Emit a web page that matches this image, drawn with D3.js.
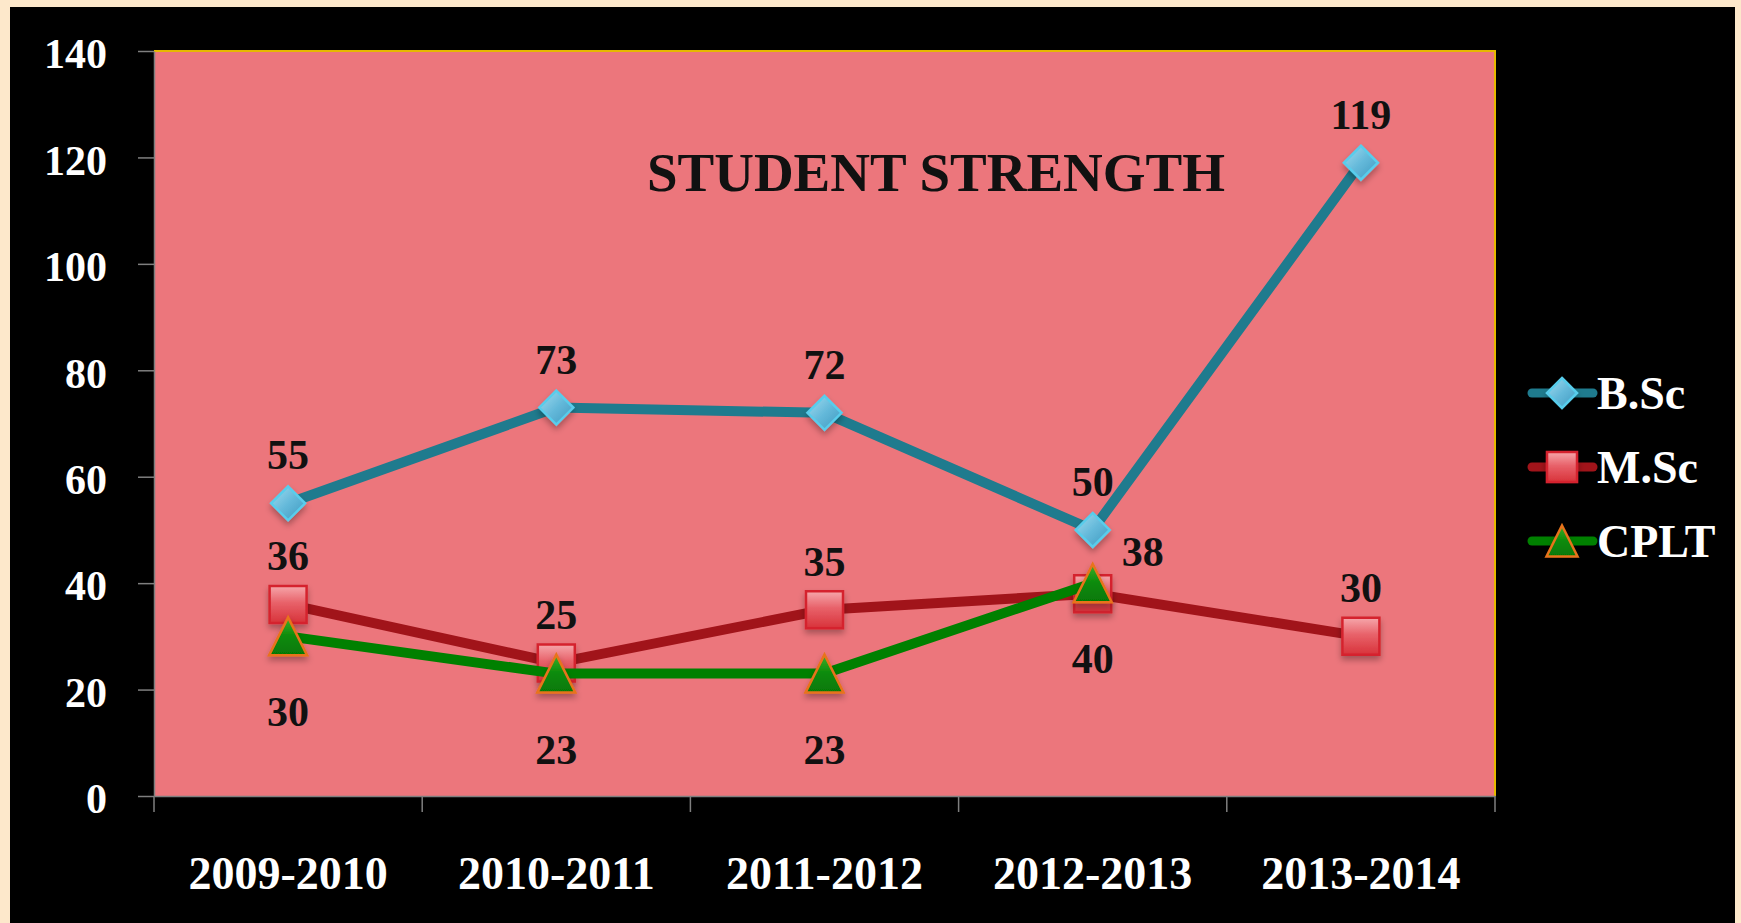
<!DOCTYPE html>
<html lang="en">
<head>
<meta charset="utf-8">
<title>Student Strength</title>
<script src="https://d3js.org/d3.v7.min.js"></script>
<style>
  body { margin: 0; background: #fde8cb; }
  svg { display: block; }
  text { font-family: "Liberation Serif", "DejaVu Serif", serif; font-weight: bold; }
</style>
</head>
<body>
<div id="chart"></div>
<script>
// chart data
var categories = ["2009-2010", "2010-2011", "2011-2012", "2012-2013", "2013-2014"];
var seriesNames = ["B.Sc", "M.Sc", "CPLT"];
var bscValues = [55, 73, 72, 50, 119];
var mscValues = [36, 25, 35, 38, 30];
var cpltValues = [30, 23, 23, 40, null];
var yTicks = [0, 20, 40, 60, 80, 100, 120, 140];
var chartTitle = "STUDENT STRENGTH";

var w = 1741, h = 923;
var plot = { left: 154, right: 1495, top: 51, bottom: 796 };

var series = [
  { name: seriesNames[0], values: bscValues, line: "#1f7b8e", shape: "diamond", label: "above" },
  { name: seriesNames[1], values: mscValues, line: "#a1141a", shape: "square", label: "above" },
  { name: seriesNames[2], values: cpltValues, line: "#008000", shape: "triangle", label: "below" }
];

var svg = d3.select("#chart").append("svg")
  .attr("width", w)
  .attr("height", h);

var defs = svg.append("defs");

var shadow = defs.append("filter").attr("id", "shadow")
  .attr("x", "-50%").attr("y", "-50%").attr("width", "200%").attr("height", "200%");
shadow.append("feDropShadow")
  .attr("dx", 0).attr("dy", 4).attr("stdDeviation", 3)
  .attr("flood-color", "#000").attr("flood-opacity", 0.3);

function gradient(id, stops, x2, y2) {
  var g = defs.append("linearGradient").attr("id", id)
    .attr("x1", 0).attr("y1", 0).attr("x2", x2).attr("y2", y2);
  stops.forEach(function(s) {
    g.append("stop").attr("offset", s[0]).attr("stop-color", s[1]);
  });
}
gradient("gDiamond", [[0, "#a4dcef"], [0.5, "#64b9da"], [1, "#3e98bf"]], 1, 1);
gradient("gSquare", [[0, "#f6a7ab"], [0.45, "#e8626a"], [1, "#d8323a"]], 0, 1);
gradient("gTriangle", [[0, "#3fae2a"], [0.5, "#0a8a0a"], [1, "#067806"]], 0, 1);

var markerStyle = {
  diamond: { fill: "url(#gDiamond)", stroke: "#58cdec", width: 2.5 },
  square: { fill: "url(#gSquare)", stroke: "#d5242d", width: 2.5 },
  triangle: { fill: "url(#gTriangle)", stroke: "#e8731a", width: 2.5 }
};

// background panel
svg.append("rect")
  .attr("x", 10).attr("y", 7)
  .attr("width", 1725).attr("height", h - 7)
  .attr("fill", "#000");

svg.append("rect")
  .attr("x", plot.left).attr("y", plot.top)
  .attr("width", plot.right - plot.left).attr("height", plot.bottom - plot.top)
  .attr("fill", "#ec767c");

// gold border on top and right
svg.append("path")
  .attr("d", "M" + plot.left + "," + plot.top + "H" + plot.right + "V" + plot.bottom)
  .attr("fill", "none")
  .attr("stroke", "#e6b800")
  .attr("stroke-width", 2);

var x = d3.scaleBand().domain(categories).range([plot.left, plot.right]);
var y = d3.scaleLinear().domain([0, 140]).range([plot.bottom, plot.top]);

// y axis
var yAxis = svg.append("g")
  .attr("transform", "translate(" + plot.left + ",0)")
  .call(d3.axisLeft(y).tickValues(yTicks).tickSize(16).tickSizeOuter(0).tickPadding(31));
yAxis.select(".domain").attr("stroke", "#7f7f7f").attr("stroke-width", 1.5);
yAxis.selectAll(".tick line").attr("stroke", "#7f7f7f").attr("stroke-width", 1.5);
yAxis.selectAll(".tick text")
  .attr("fill", "#fff")
  .attr("font-size", 42)
  .attr("dy", "0.4em")
  .style("font-family", "'Liberation Serif', serif");

// x axis
var xAxis = svg.append("g")
  .attr("transform", "translate(0," + plot.bottom + ")")
  .call(d3.axisBottom(x).tickSize(0).tickSizeOuter(0));
xAxis.select(".domain").attr("stroke", "#7f7f7f").attr("stroke-width", 1.5);
xAxis.selectAll(".tick text")
  .attr("fill", "#fff")
  .attr("font-size", 46)
  .attr("y", 93)
  .attr("dy", 0)
  .style("font-family", "'Liberation Serif', serif");

// boundary ticks between categories
var bounds = categories.map(function(c) { return x(c); }).concat([x(categories[categories.length - 1]) + x.bandwidth()]);
xAxis.selectAll(".bound")
  .data(bounds)
  .enter()
  .append("line")
  .attr("x1", function(d) { return d; })
  .attr("x2", function(d) { return d; })
  .attr("y1", 0)
  .attr("y2", 16)
  .attr("stroke", "#7f7f7f")
  .attr("stroke-width", 1.5);

// title
svg.append("text")
  .attr("x", 936)
  .attr("y", 191)
  .attr("text-anchor", "middle")
  .attr("font-size", 55)
  .attr("fill", "#111")
  .text(chartTitle);

function cx(i) { return x(categories[i]) + x.bandwidth() / 2; }

function markerPath(shape, s) {
  if (shape === "diamond") return "M0," + (-s) + "L" + s + ",0L0," + s + "L" + (-s) + ",0Z";
  if (shape === "square") return "M" + (-s) + "," + (-s) + "H" + s + "V" + s + "H" + (-s) + "Z";
  return "M0," + (-s) + "L" + s + "," + s + "L" + (-s) + "," + s + "Z";
}
var markerSize = { diamond: 17, square: 18.5, triangle: 19 };
var legendMarkerSize = { diamond: 15, square: 15, triangle: 15.5 };

function drawMarker(g, shape, px, py, s) {
  var st = markerStyle[shape];
  g.append("path")
    .attr("d", markerPath(shape, s))
    .attr("transform", "translate(" + px + "," + py + ")")
    .attr("fill", st.fill)
    .attr("stroke", st.stroke)
    .attr("stroke-width", st.width)
    .attr("stroke-linejoin", "miter")
    .attr("filter", "url(#shadow)");
}

var line = d3.line()
  .defined(function(d) { return d != null; })
  .x(function(d, i) { return cx(i); })
  .y(function(d) { return y(d); });

// lines and markers
series.forEach(function(s) {
  var g = svg.append("g");
  g.append("path")
    .datum(s.values)
    .attr("d", line)
    .attr("fill", "none")
    .attr("stroke", s.line)
    .attr("stroke-width", 10)
    .attr("stroke-linejoin", "round");
  s.values.forEach(function(v, i) {
    if (v == null) return;
    drawMarker(g, s.shape, cx(i), y(v), markerSize[s.shape]);
  });
});

// data labels
series.forEach(function(s) {
  s.values.forEach(function(v, i) {
    if (v == null) return;
    var lx = cx(i), ly;
    if (s.label === "above") {
      // if another series sits just above this point, put the label to the right
      var crowded = series.some(function(o) {
        var ov = o.values[i];
        return o !== s && ov != null && ov > v && ov - v < 8;
      });
      if (crowded) { lx += 50; ly = y(v) - 42; }
      else ly = y(v) - 48;
    } else {
      ly = y(v) + 76;
    }
    svg.append("text")
      .attr("x", lx)
      .attr("y", ly + 14)
      .attr("text-anchor", "middle")
      .attr("font-size", 42)
      .attr("fill", "#111")
      .text(v);
  });
});

// legend
var legend = svg.append("g").attr("transform", "translate(1532,393)");
series.forEach(function(s, i) {
  var g = legend.append("g").attr("transform", "translate(0," + (i * 74) + ")");
  g.append("line")
    .attr("x1", 0).attr("x2", 61)
    .attr("y1", 0).attr("y2", 0)
    .attr("stroke", s.line)
    .attr("stroke-width", 9)
    .attr("stroke-linecap", "round");
  drawMarker(g, s.shape, 30, 0, legendMarkerSize[s.shape]);
  g.append("text")
    .attr("x", 65)
    .attr("y", 16)
    .attr("font-size", 46)
    .attr("fill", "#fff")
    .text(s.name);
});
</script>
</body>
</html>
